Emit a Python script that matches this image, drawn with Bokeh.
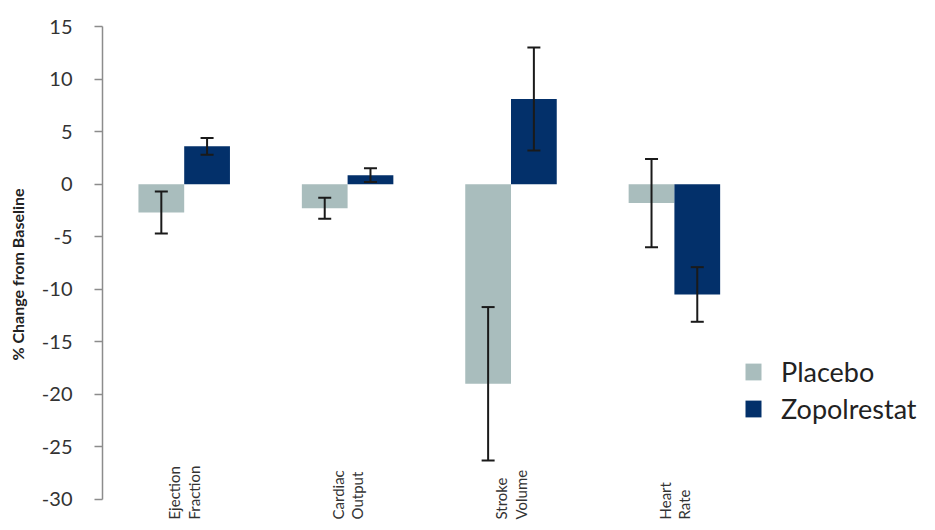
from math import pi
from bokeh.plotting import figure
from bokeh.models import (Range1d, FactorRange, ColumnDataSource, Whisker, Legend,
                          LegendItem, TeeHead, FixedTicker)
from bokeh.transform import dodge
from bokeh.core.properties import value
from bokeh.embed import file_html
from bokeh.resources import INLINE

# ---- data ----
categories = ["Ejection Fraction", "Cardiac Output", "Stroke Volume", "Heart Rate"]
category_labels = ["Ejection\nFraction", "Cardiac\nOutput", "Stroke\nVolume", "Heart\nRate"]
placebo = [-2.7, -2.3, -19.0, -1.8]
placebo_err = [2.0, 1.0, 7.3, 4.2]
zopolrestat = [3.6, 0.85, 8.1, -10.5]
zopolrestat_err = [0.8, 0.65, 4.9, 2.6]
y_ticks = [15, 10, 5, 0, -5, -10, -15, -20, -25, -30]
series_names = ["Placebo", "Zopolrestat"]

PLACEBO_COLOR = "#a9bdbd"
ZOPOL_COLOR = "#03306a"
Y_MIN, Y_MAX = -32.2, 15
BAR_W = 0.28
SPACER = " "  # empty slot on the right of the x range that holds the legend

src = ColumnDataSource(dict(
    cat=categories,
    label=category_labels,
    placebo=placebo,
    zopol=zopolrestat,
    p_up=[v + e for v, e in zip(placebo, placebo_err)],
    p_lo=[v - e for v, e in zip(placebo, placebo_err)],
    z_up=[v + e for v, e in zip(zopolrestat, zopolrestat_err)],
    z_lo=[v - e for v, e in zip(zopolrestat, zopolrestat_err)],
))

p = figure(width=919, height=522, output_backend="svg", toolbar_location=None,
           x_range=FactorRange(factors=categories + [SPACER], range_padding=0),
           y_range=Range1d(Y_MIN, Y_MAX), x_axis_location=None,
           min_border_left=102, min_border_right=0, min_border_top=26,
           min_border_bottom=0)
p.outline_line_color = None
p.grid.visible = False
p.background_fill_color = "white"

r1 = p.vbar(x=dodge("cat", -BAR_W / 2, range=p.x_range), top="placebo", bottom=0,
            width=BAR_W, source=src, fill_color=PLACEBO_COLOR, line_color=None)
r2 = p.vbar(x=dodge("cat", BAR_W / 2, range=p.x_range), top="zopol", bottom=0,
            width=BAR_W, source=src, fill_color=ZOPOL_COLOR, line_color=None)

for off, up, lo in [(-BAR_W / 2, "p_up", "p_lo"), (BAR_W / 2, "z_up", "z_lo")]:
    w = Whisker(base=dodge("cat", off, range=p.x_range), upper=up, lower=lo, source=src,
                line_color="#1a1a1a", line_width=2, level="annotation",
                upper_head=TeeHead(size=13, line_width=2, line_color="#1a1a1a"),
                lower_head=TeeHead(size=13, line_width=2, line_color="#1a1a1a"))
    p.add_layout(w)

# category labels, rotated, anchored at the bottom of the plot
p.text(x="cat", y=Y_MIN, text="label", source=src, angle=pi / 2,
       text_align="left", text_baseline="middle", y_offset=-3,
       text_font=value("Lato"), text_font_size="15px", text_color="#333333",
       text_line_height=1.1)

yax = p.yaxis[0]
yax.bounds = (-30, 15)
yax.ticker = FixedTicker(ticks=y_ticks)
yax.major_label_overrides = {t: str(t) for t in y_ticks}
yax.minor_tick_line_color = None
yax.major_tick_in = 0
yax.major_tick_out = 8
yax.axis_line_color = "#8c8c8c"
yax.axis_line_width = 1.5
yax.major_tick_line_color = "#8c8c8c"
yax.major_tick_line_width = 1.5
yax.major_label_standoff = 22
yax.major_label_text_font = "Lato"
yax.major_label_text_font_size = "20px"
yax.major_label_text_color = "#333333"
yax.axis_label = "% Change from Baseline"
yax.axis_label_text_font = "Lato"
yax.axis_label_text_font_style = "bold"
yax.axis_label_text_font_size = "16px"
yax.axis_label_text_color = "#222222"
yax.axis_label_standoff = 12

legend = Legend(items=[LegendItem(label=series_names[0], renderers=[r1]),
                       LegendItem(label=series_names[1], renderers=[r2])],
                location=(641, 97))
legend.border_line_color = None
legend.background_fill_alpha = 0
legend.padding = 0
legend.margin = 0
legend.glyph_width = 20
legend.glyph_height = 21
legend.label_standoff = 18
legend.label_text_font = "Lato"
legend.label_text_font_size = "27px"
legend.label_text_color = "#222222"
legend.spacing = 4
p.add_layout(legend)

open("out.html", "w").write(file_html(p, INLINE))
